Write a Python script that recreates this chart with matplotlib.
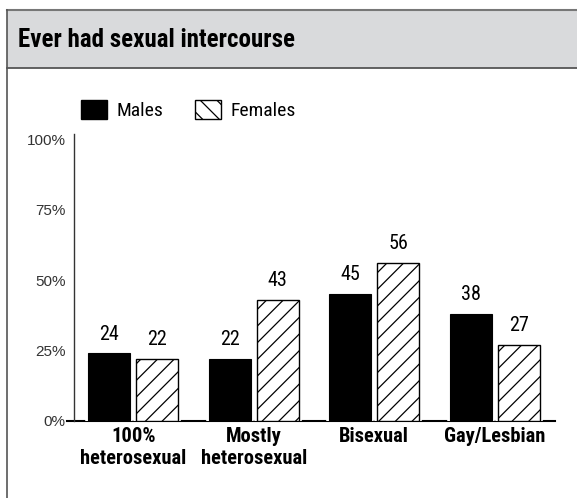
import matplotlib
matplotlib.use("Agg")
import matplotlib.pyplot as plt
from matplotlib.patches import Rectangle, Patch
from matplotlib.lines import Line2D
import matplotlib.patheffects as pe
import numpy as np

categories = ["100%\nheterosexual", "Mostly\nheterosexual", "Bisexual", "Gay/Lesbian"]
males = [24, 22, 45, 38]
females = [22, 43, 56, 27]
yticks = [0, 25, 50, 75, 100]
ytick_labels = ["0%", "25%", "50%", "75%", "100%"]
title = "Ever had sexual intercourse"

NARROW = ["Roboto Condensed", "DejaVu Sans"]
REG = ["Liberation Sans", "DejaVu Sans"]
plt.rcParams["hatch.linewidth"] = 0.9

W, H = 577, 498
fig = plt.figure(figsize=(W / 100, H / 100), dpi=100)

def fx(px):
    return px / W

def fy(py):
    return 1 - py / H

# title band and frame
fig.patches.append(Rectangle((fx(7), fy(68)), 1, fy(10) - fy(68), transform=fig.transFigure,
                             facecolor="#d9dadc", edgecolor="none", zorder=0))
fig.lines.append(Line2D([fx(7), 1], [fy(10), fy(10)], transform=fig.transFigure, color="#777777", lw=1.5))
fig.lines.append(Line2D([fx(7), 1], [fy(68), fy(68)], transform=fig.transFigure, color="#555555", lw=1.3))
fig.lines.append(Line2D([fx(7), fx(7)], [0, fy(10)], transform=fig.transFigure, color="#555555", lw=1.2))
fig.text(fx(18), fy(40), title, fontfamily=NARROW, fontweight="bold", fontsize=18,
         va="center", ha="left", color="black")

ax_left, ax_right = 67, 555
ax_top, ax_bot = 134, 421
ax = fig.add_axes([fx(ax_left), fy(ax_bot), fx(ax_right - ax_left), fy(ax_top) - fy(ax_bot)])
ax.set_ylim(0, 100 * (ax_bot - ax_top) / 282)
ax.set_xlim(-0.55, 3.5)

x = np.arange(len(categories))
bw = 0.35
off = 0.2
stroke = [pe.Stroke(linewidth=4, foreground="white"), pe.Normal()]
bm = ax.bar(x - off, males, bw, color="black", edgecolor="black", linewidth=0.8, zorder=3)
bf = ax.bar(x + off, females, bw, color="white", edgecolor="black", hatch="//", linewidth=1.0, zorder=3)
for b in list(bm) + list(bf):
    b.set_path_effects(stroke)

for xi, v in zip(x - off, males):
    ax.annotate(str(v), (xi, v), xytext=(0, 7), textcoords="offset points", ha="center", va="bottom",
                fontfamily=NARROW, fontsize=14.5, color="black")
for xi, v in zip(x + off, females):
    ax.annotate(str(v), (xi, v), xytext=(0, 7), textcoords="offset points", ha="center", va="bottom",
                fontfamily=NARROW, fontsize=14.5, color="black")

for s in ["top", "right"]:
    ax.spines[s].set_visible(False)
ax.spines["left"].set_position(("axes", 7 / (ax_right - ax_left)))
ax.spines["left"].set_color("#333333")
ax.spines["left"].set_linewidth(1.0)
ax.spines["bottom"].set_color("black")
ax.spines["bottom"].set_linewidth(1.5)
ax.spines["bottom"].set_zorder(2)

ax.set_yticks(yticks)
ax.set_yticklabels(ytick_labels, fontfamily=REG, fontsize=11, color="#333333")
ax.tick_params(axis="y", length=0, pad=6)
ax.set_xticks(x)
ax.set_xticklabels(categories, fontfamily=NARROW, fontweight="bold", fontsize=14.8,
                   linespacing=1.2)
ax.tick_params(axis="x", length=0, pad=4)

handles = [Patch(facecolor="black", edgecolor="black", label="Males"),
           Patch(facecolor="white", edgecolor="black", hatch="\\\\", label="Females")]
leg = fig.legend(handles=handles, loc="upper left", bbox_to_anchor=(fx(81), fy(100)), ncol=2,
                 frameon=False, prop={"family": NARROW, "size": 14}, handlelength=1.35,
                 handleheight=1.1, handletextpad=0.5, columnspacing=1.6,
                 borderpad=0, borderaxespad=0)

fig.savefig("out.png", dpi=100)
